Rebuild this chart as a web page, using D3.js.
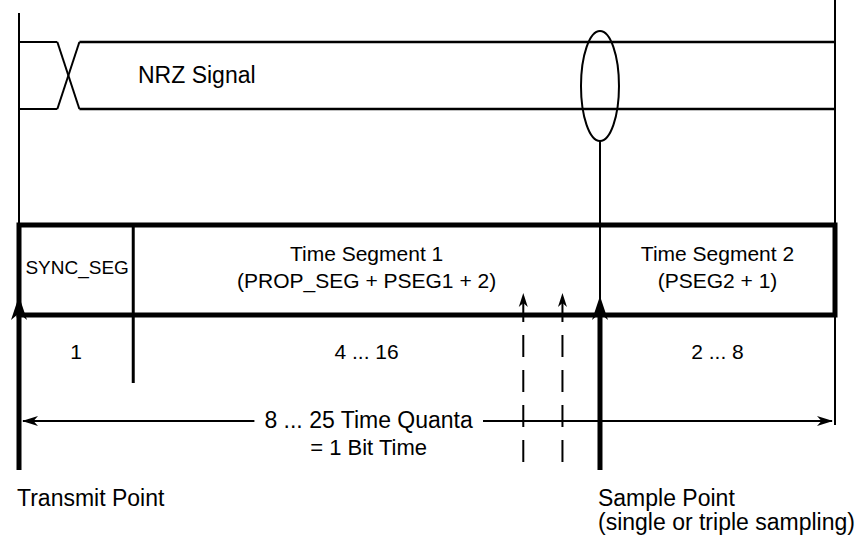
<!DOCTYPE html>
<html>
<head>
<meta charset="utf-8">
<script src="https://cdn.jsdelivr.net/npm/d3@7"></script>
<style>
  body { margin: 0; background: #fff; }
  svg text { font-family: "Liberation Sans", Arial, Helvetica, sans-serif; fill: #000; }
</style>
</head>
<body>
<svg class="timing"></svg>
<script>
// bit time expressed as a fraction from transmit point (0) to end of bit (1)
var segmentNames = ["SYNC_SEG", "Time Segment 1", "Time Segment 2"];
var segmentFormulas = ["", "(PROP_SEG + PSEG1 + 2)", "(PSEG2 + 1)"];
var segmentQuanta = ["1", "4 ... 16", "2 ... 8"];
var segmentEdges = [0, 0.14, 0.712, 1];
var samplePoints = [0.618, 0.666, 0.712];   // triple sampling, last one = sample point
var nrzEdge = [0.047, 0.074];
var bitTimeLabels = ["8 ... 25 Time Quanta", "= 1 Bit Time"];
var pointLabels = [
  { at: 0, lines: ["Transmit Point"] },
  { at: 0.712, lines: ["Sample Point", "(single or triple sampling)"] }
];

var width = 868, height = 541;

var svg = d3.select(".timing")
    .attr("width", width)
    .attr("height", height);

var x = d3.scaleLinear()
    .domain([0, 1])
    .range([19, 835]);

var nrzTop = 42, nrzBot = 109,
    boxTop = 225, boxBot = 315,
    spanY = 421;

function arrowUp(cx, tip, len, hw) {
    return "M" + cx + "," + tip + "L" + (cx - hw) + "," + (tip + len) +
        "L" + cx + "," + (tip + len * 0.72) + "L" + (cx + hw) + "," + (tip + len) + "Z";
}
function arrowSide(tipX, y, len, hw, dir) {
    return "M" + tipX + "," + y + "L" + (tipX + dir * len) + "," + (y - hw) +
        "L" + (tipX + dir * len * 0.72) + "," + y + "L" + (tipX + dir * len) + "," + (y + hw) + "Z";
}

// outer frame verticals
svg.append("line").attr("x1", x(0)).attr("x2", x(0)).attr("y1", 13).attr("y2", boxTop)
    .attr("stroke", "#000").attr("stroke-width", 2);
svg.append("line").attr("x1", x(1)).attr("x2", x(1)).attr("y1", 0).attr("y2", 425)
    .attr("stroke", "#000").attr("stroke-width", 2);

// NRZ signal
var nrz = svg.append("g").attr("stroke", "#000").attr("fill", "none");
nrz.selectAll(".pre").data([nrzTop, nrzBot]).enter().append("line")
    .attr("x1", x(0)).attr("x2", x(nrzEdge[0]))
    .attr("y1", d => d).attr("y2", d => d).attr("stroke-width", 2);
nrz.selectAll(".post").data([nrzTop, nrzBot]).enter().append("line")
    .attr("x1", x(nrzEdge[1])).attr("x2", x(1))
    .attr("y1", d => d).attr("y2", d => d).attr("stroke-width", 2.5);
nrz.append("line").attr("x1", x(nrzEdge[0])).attr("y1", nrzTop)
    .attr("x2", x(nrzEdge[1])).attr("y2", nrzBot).attr("stroke-width", 2);
nrz.append("line").attr("x1", x(nrzEdge[0])).attr("y1", nrzBot)
    .attr("x2", x(nrzEdge[1])).attr("y2", nrzTop).attr("stroke-width", 2);
svg.append("text").attr("x", 138).attr("y", 83).style("font-size", "23px").text("NRZ Signal");

// sampling ellipse
var sp = x(samplePoints[2]);
svg.append("ellipse").attr("cx", sp).attr("cy", 86).attr("rx", 19).attr("ry", 55)
    .attr("fill", "none").attr("stroke", "#000").attr("stroke-width", 2);
svg.append("line").attr("x1", sp).attr("x2", sp).attr("y1", 141).attr("y2", 300)
    .attr("stroke", "#000").attr("stroke-width", 2);

// dashed sample lines (triple sampling)
svg.selectAll(".dash").data(samplePoints.slice(0, 2)).enter().append("line")
    .attr("x1", d => x(d)).attr("x2", d => x(d))
    .attr("y1", 297).attr("y2", 470)
    .attr("stroke", "#000").attr("stroke-width", 2)
    .attr("stroke-dasharray", "22,13").attr("stroke-dashoffset", -3);
svg.selectAll(".dashhead").data(samplePoints.slice(0, 2)).enter().append("path")
    .attr("d", d => arrowUp(x(d), 293, 14, 4.5)).attr("fill", "#000");

// bit time box
svg.append("rect").attr("x", x(0)).attr("y", boxTop)
    .attr("width", x(1) - x(0)).attr("height", boxBot - boxTop)
    .attr("fill", "none").attr("stroke", "#000").attr("stroke-width", 5);

// sync seg divider
svg.append("line").attr("x1", x(segmentEdges[1])).attr("x2", x(segmentEdges[1]))
    .attr("y1", boxTop).attr("y2", 383).attr("stroke", "#000").attr("stroke-width", 3);

// transmit and sample point thick lines
svg.selectAll(".point").data([0, samplePoints[2]]).enter().append("line")
    .attr("x1", d => x(d)).attr("x2", d => x(d))
    .attr("y1", boxBot).attr("y2", 470)
    .attr("stroke", "#000").attr("stroke-width", 5);
svg.selectAll(".pointhead").data([0, samplePoints[2]]).enter().append("path")
    .attr("d", d => arrowUp(x(d), 296, 24, 8)).attr("fill", "#000");

// segment labels
var mids = segmentNames.map((n, i) => x((segmentEdges[i] + segmentEdges[i + 1]) / 2));
svg.selectAll(".segname").data(segmentNames).enter().append("text")
    .attr("x", (d, i) => i == 0 ? mids[0] + 1 : mids[i])
    .attr("y", (d, i) => i == 0 ? 274 : 261)
    .attr("text-anchor", "middle")
    .style("font-size", (d, i) => i == 0 ? "19px" : "21px")
    .text(d => d);
svg.selectAll(".segform").data(segmentFormulas).enter().append("text")
    .attr("x", (d, i) => mids[i]).attr("y", 288)
    .attr("text-anchor", "middle").style("font-size", "21px")
    .text(d => d);
svg.selectAll(".segq").data(segmentQuanta).enter().append("text")
    .attr("x", (d, i) => mids[i]).attr("y", 359)
    .attr("text-anchor", "middle").style("font-size", "21px")
    .text(d => d);

// bit time span arrow
var spanText = svg.append("text").attr("x", mids[1] + 2).attr("y", 428)
    .attr("text-anchor", "middle").style("font-size", "23px").text(bitTimeLabels[0]);
var bb = spanText.node().getBBox();
svg.selectAll(".span").data([[x(0) + 4, bb.x - 10], [bb.x + bb.width + 10, x(1) - 3]]).enter()
    .append("line").attr("x1", d => d[0]).attr("x2", d => d[1])
    .attr("y1", spanY).attr("y2", spanY).attr("stroke", "#000").attr("stroke-width", 2);
svg.append("path").attr("d", arrowSide(x(0) + 3, spanY, 16, 5, 1)).attr("fill", "#000");
svg.append("path").attr("d", arrowSide(x(1) - 2, spanY, 16, 5, -1)).attr("fill", "#000");
svg.append("text").attr("x", mids[1] + 2).attr("y", 455)
    .attr("text-anchor", "middle").style("font-size", "22px").text(bitTimeLabels[1]);

// point labels
pointLabels.forEach(function(p) {
    p.lines.forEach(function(l, j) {
        svg.append("text").attr("x", x(p.at) - 2).attr("y", 506 + j * 24)
            .style("font-size", "23px").text(l);
    });
});
</script>
</body>
</html>
